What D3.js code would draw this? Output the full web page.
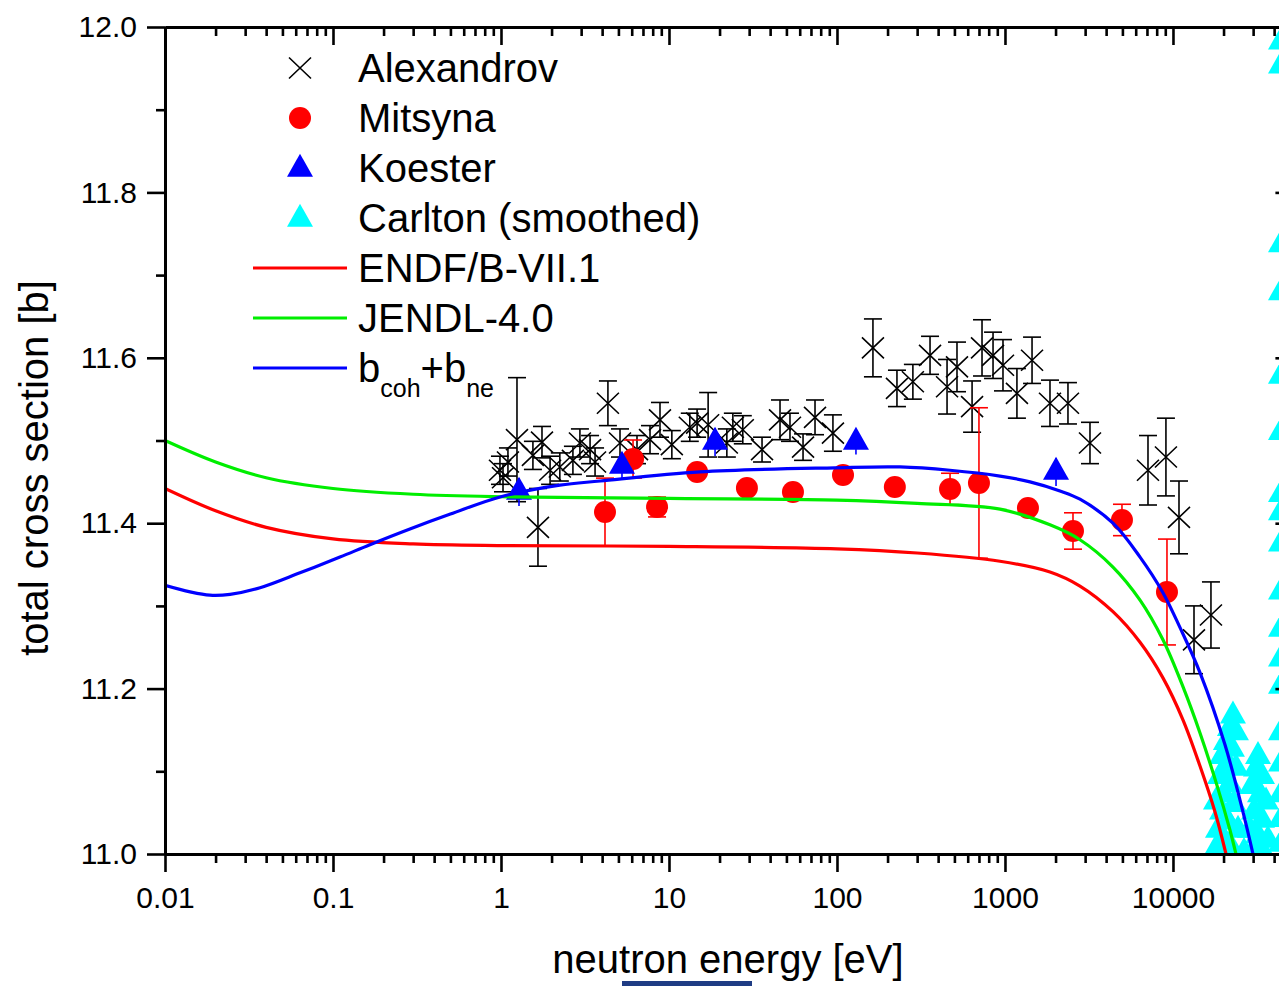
<!DOCTYPE html>
<html>
<head>
<meta charset="utf-8">
<script src="https://cdnjs.cloudflare.com/ajax/libs/d3/7.8.5/d3.min.js"></script>
<style>
  body { margin: 0; background: #fff; }
  svg { display: block; font-family: "Liberation Sans", Arial, sans-serif; }
</style>
</head>
<body>
<div class="chart"></div>
<script>
// Alexandrov (crosses with error bars)
var alexE = [1.028, 1.10, 1.245, 1.754, 1.66, 1.96, 2.24, 2.68, 2.95, 3.39, 4.33, 5.11, 6.45, 7.71, 8.84,
  10.4, 13.3, 14.7, 17.1, 22.1, 24.0, 27.5, 35.8, 45.8, 52.5, 62.8, 74.0, 94.6, 163.7, 227.5, 283, 358,
  452, 518, 637, 730, 849, 973, 1178, 1449, 1853, 2371, 3206, 7100, 9080, 10860, 13340, 16830,
  0.986, 1.549, 3.63];
var alexV = [11.455, 11.474, 11.501, 11.498, 11.395, 11.464, 11.468, 11.476, 11.497, 11.489, 11.545, 11.497, 11.489, 11.501, 11.525,
  11.495, 11.516, 11.521, 11.519, 11.497, 11.516, 11.513, 11.489, 11.525, 11.516, 11.492, 11.528, 11.509, 11.612, 11.563, 11.571, 11.603,
  11.565, 11.589, 11.541, 11.612, 11.603, 11.591, 11.557, 11.597, 11.545, 11.545, 11.497, 11.464, 11.480, 11.407, 11.259, 11.289,
  11.464, 11.482, 11.474];
var alexErr = [0.017, 0.017, 0.075, 0.019, 0.047, 0.017, 0.017, 0.017, 0.017, 0.017, 0.027, 0.017, 0.017, 0.017, 0.021,
  0.017, 0.017, 0.017, 0.039, 0.017, 0.017, 0.017, 0.015, 0.024, 0.017, 0.016, 0.021, 0.022, 0.035, 0.022, 0.021, 0.023,
  0.033, 0.030, 0.031, 0.034, 0.028, 0.031, 0.030, 0.028, 0.028, 0.025, 0.025, 0.042, 0.047, 0.044, 0.041, 0.040,
  0.017, 0.017, 0.017];

// Mitsyna (red circles)
var mitE = [4.16, 6.11, 8.49, 14.7, 29.1, 54.7, 108.6, 221, 471, 700, 1370, 2540, 4970, 9210];
var mitV = [11.4135, 11.4776, 11.4196, 11.4619, 11.4426, 11.4377, 11.4583, 11.4438, 11.4414, 11.4486, 11.4184, 11.3906, 11.4039, 11.3168];
var mitErr = [0.041, 0.023, 0.012, 0.005, 0.005, 0.005, 0.005, 0.005, 0.019, 0.091, 0.005, 0.022, 0.019, 0.064];

// Koester (blue triangles)
var koeE = [1.28, 5.25, 18.8, 129.7, 2013];
var koeV = [11.4377, 11.4692, 11.4982, 11.4982, 11.4619];
var koeErr = [0.017, 0.016, 0.017, 0.015, 0.017];

// Carlton (smoothed), cyan triangles
var carE = [22750, 21830, 23710, 20650, 22440, 19580, 21250, 23710, 19050, 21830, 20130, 18030, 23070, 19580, 21250,
  18530, 24380, 20130, 18030, 22440, 26470, 20650,
  32060, 31190, 33880, 29510, 32960, 35810, 30340, 33880, 28710, 32060, 36730, 30340, 34820,
  43950, 43950, 43950, 43950, 43950, 43950, 43950, 43950, 43950, 43950, 43950, 43950, 43950, 43950, 43950, 43950, 43950, 43950];
var carV = [11.167, 11.152, 11.147, 11.135, 11.127, 11.118, 11.109, 11.104, 11.094, 11.084, 11.072, 11.063, 11.060, 11.051, 11.039,
  11.029, 11.029, 11.017, 11.006, 11.006, 11.002, 10.997,
  11.118, 11.103, 11.094, 11.082, 11.072, 11.063, 11.051, 11.041, 11.029, 11.022, 11.017, 11.005, 11.000,
  11.982, 11.953, 11.737, 11.679, 11.578, 11.510, 11.435, 11.413, 11.375, 11.317, 11.272, 11.236, 11.203, 11.147, 11.109, 11.072, 11.042, 11.012];

// Evaluated curves
var endfE = [0.01, 0.02, 0.04, 0.1, 0.3, 1, 10, 100, 300, 934, 1853, 2795, 4393, 6367, 8716, 11480, 14500, 17780, 20680];
var endfV = [11.442, 11.415, 11.395, 11.381, 11.375, 11.373, 11.372, 11.369, 11.364, 11.354, 11.341, 11.324, 11.293, 11.256, 11.213, 11.162, 11.106, 11.051, 11.0];
var jendlE = [0.01, 0.02, 0.04, 0.1, 0.3, 1, 10, 100, 300, 934, 1853, 2795, 4393, 6367, 8716, 11480, 14500, 18280, 21830, 23710];
var jendlV = [11.500, 11.474, 11.455, 11.442, 11.435, 11.432, 11.430, 11.428, 11.424, 11.417, 11.398, 11.380, 11.347, 11.307, 11.259, 11.202, 11.146, 11.083, 11.029, 11.0];
var bcohE = [0.01, 0.0141, 0.0185, 0.0244, 0.0368, 0.0636, 0.110, 0.166, 0.287, 0.5, 1, 2.24, 3.9, 15.3, 97, 237, 470, 934, 1409, 2125, 2795, 4393, 6367, 8716, 11000, 14500, 20400, 26100, 29950];
var bcohV = [11.325, 11.317, 11.313, 11.314, 11.322, 11.340, 11.359, 11.374, 11.393, 11.411, 11.432, 11.446, 11.451, 11.462, 11.467, 11.468, 11.464, 11.457, 11.450, 11.439, 11.429, 11.400, 11.359, 11.316, 11.274, 11.219, 11.132, 11.051, 11.0];

// Tick values and labels
var xMajor = [0.01, 0.1, 1, 10, 100, 1000, 10000];
var xLabels = ["0.01", "0.1", "1", "10", "100", "1000", "10000"];
var yMajor = [11.0, 11.2, 11.4, 11.6, 11.8, 12.0];
var yLabels = ["11.0", "11.2", "11.4", "11.6", "11.8", "12.0"];
var yMinor = [11.1, 11.3, 11.5, 11.7, 11.9];

var svgWidth = 1279;
var svgHeight = 986;
var plot = { left: 165, top: 27, bottom: 854, right: 1290.4 };
var fontFam = '"Liberation Sans", Arial, sans-serif';

var svg = d3.select(".chart")
  .append("svg")
  .attr("width", svgWidth)
  .attr("height", svgHeight);

var xScale = d3.scaleLog().domain([0.01, 50000]).range([plot.left, plot.right]);
var yScale = d3.scaleLinear().domain([11, 12]).range([plot.bottom, plot.top]);

// minor tick positions 2..9 per decade
var xMinor = [];
xMajor.forEach(function(m) {
  for (var k = 2; k <= 9; k++) {
    if (k * m <= 50000) xMinor.push(+(k * m).toPrecision(3));
  }
});

svg.append("clipPath").attr("id", "plotClip")
  .append("rect")
  .attr("x", plot.left).attr("y", plot.top)
  .attr("width", plot.right - plot.left).attr("height", plot.bottom - plot.top);

var dataG = svg.append("g").attr("clip-path", "url(#plotClip)");

var crossPath = "M-11,-10.5L11,10.5M-11,10.5L11,-10.5";
// triangle centred on its centroid
var triPath = "M0,-15.3L13,7.7L-13,7.7Z";

function errorBars(E, V, Err, color, cap) {
  var g = dataG.append("g").attr("stroke", color).attr("stroke-width", 1.6).attr("fill", "none");
  E.forEach(function(e, i) {
    var x = xScale(e), y0 = yScale(V[i] - Err[i]), y1 = yScale(V[i] + Err[i]);
    g.append("line").attr("x1", x).attr("x2", x).attr("y1", y0).attr("y2", y1);
    if (cap > 0) {
      g.append("line").attr("x1", x - cap).attr("x2", x + cap).attr("y1", y0).attr("y2", y0);
      g.append("line").attr("x1", x - cap).attr("x2", x + cap).attr("y1", y1).attr("y2", y1);
    }
  });
}

// Carlton
dataG.append("g").selectAll("path")
  .data(carE)
  .enter()
  .append("path")
  .attr("d", triPath)
  .attr("fill", "#00ffff")
  .attr("transform", (d, i) => `translate(${xScale(d)},${yScale(carV[i])})`);

// Alexandrov
errorBars(alexE, alexV, alexErr, "#000", 9);
dataG.append("g").selectAll("path")
  .data(alexE)
  .enter()
  .append("path")
  .attr("d", crossPath)
  .attr("stroke", "#000")
  .attr("stroke-width", 1.6)
  .attr("fill", "none")
  .attr("transform", (d, i) => `translate(${xScale(d)},${yScale(alexV[i])})`);

// Mitsyna
errorBars(mitE, mitV, mitErr, "#ff0000", 9);
dataG.append("g").selectAll("circle")
  .data(mitE)
  .enter()
  .append("circle")
  .attr("cx", d => xScale(d))
  .attr("cy", (d, i) => yScale(mitV[i]))
  .attr("r", 11)
  .attr("fill", "#ff0000");

// Koester
errorBars(koeE, koeV, koeErr, "#0000ff", 0);
dataG.append("g").selectAll("path")
  .data(koeE)
  .enter()
  .append("path")
  .attr("d", triPath)
  .attr("fill", "#0000ff")
  .attr("transform", (d, i) => `translate(${xScale(d)},${yScale(koeV[i])})`);

// Curves
var line = d3.line()
  .x(d => xScale(d[0]))
  .y(d => yScale(d[1]))
  .curve(d3.curveCatmullRom.alpha(0.5));

function drawCurve(E, V, color) {
  dataG.append("path")
    .datum(E.map((e, i) => [e, V[i]]))
    .attr("d", line)
    .attr("fill", "none")
    .attr("stroke", color)
    .attr("stroke-width", 3.2);
}
drawCurve(endfE, endfV, "#ff0000");
drawCurve(jendlE, jendlV, "#00ee00");
drawCurve(bcohE, bcohV, "#0000ff");

// Axes
function styleAxis(g, showText) {
  g.select(".domain").attr("stroke-width", 3);
  g.selectAll(".tick line").attr("stroke-width", 2.6);
  g.selectAll("text")
    .attr("font-size", 30)
    .attr("font-family", fontFam)
    .attr("fill", "#000");
  if (!showText) g.selectAll("text").remove();
}

var bottomMajor = d3.axisBottom(xScale).tickValues(xMajor)
  .tickFormat((d, i) => xLabels[i]).tickSizeInner(18).tickSizeOuter(0).tickPadding(15);
var bottomMinor = d3.axisBottom(xScale).tickValues(xMinor).tickSizeInner(9).tickSizeOuter(0);

svg.append("g").attr("transform", `translate(0,${plot.bottom})`).call(bottomMinor).call(g => styleAxis(g, false));
svg.append("g").attr("transform", `translate(0,${plot.bottom})`).call(bottomMajor).call(g => styleAxis(g, true));

// top axis: ticks hanging into the plot
svg.append("g").attr("transform", `translate(0,${plot.top})`).call(bottomMinor).call(g => styleAxis(g, false));
svg.append("g").attr("transform", `translate(0,${plot.top})`)
  .call(d3.axisBottom(xScale).tickValues(xMajor).tickSizeInner(18).tickSizeOuter(0))
  .call(g => styleAxis(g, false));

var leftMajor = d3.axisLeft(yScale).tickValues(yMajor)
  .tickFormat((d, i) => yLabels[i]).tickSizeInner(18).tickSizeOuter(0).tickPadding(10);
var leftMinor = d3.axisLeft(yScale).tickValues(yMinor).tickSizeInner(9).tickSizeOuter(0);

svg.append("g").attr("transform", `translate(${plot.left},0)`).call(leftMinor).call(g => styleAxis(g, false));
svg.append("g").attr("transform", `translate(${plot.left},0)`).call(leftMajor).call(g => styleAxis(g, true));

// right axis: ticks pointing inward
svg.append("g").attr("transform", `translate(${plot.right},0)`)
  .call(d3.axisLeft(yScale).tickValues(yMinor).tickSizeInner(8).tickSizeOuter(0))
  .call(g => styleAxis(g, false));
svg.append("g").attr("transform", `translate(${plot.right},0)`)
  .call(d3.axisLeft(yScale).tickValues(yMajor).tickSizeInner(15).tickSizeOuter(0))
  .call(g => styleAxis(g, false));

// Axis titles
svg.append("text")
  .attr("x", 728)
  .attr("y", 973)
  .attr("text-anchor", "middle")
  .attr("font-size", 40)
  .attr("font-family", fontFam)
  .text("neutron energy [eV]");

svg.append("rect")
  .attr("x", 622).attr("y", 981)
  .attr("width", 130).attr("height", 5)
  .attr("fill", "#1f3c84");

svg.append("text")
  .attr("transform", "translate(48,468) rotate(-90)")
  .attr("text-anchor", "middle")
  .attr("font-size", 40)
  .attr("font-family", fontFam)
  .text("total cross section [b]");

// Legend
var legend = svg.append("g");
var legendRows = [68, 118, 168, 218, 268, 318, 368];
var symX = 300, txtX = 358;

legend.append("path").attr("d", crossPath).attr("stroke", "#000").attr("stroke-width", 1.6)
  .attr("fill", "none").attr("transform", `translate(${symX},${legendRows[0]})`);
legend.append("circle").attr("cx", symX).attr("cy", legendRows[1]).attr("r", 11).attr("fill", "#ff0000");
legend.append("path").attr("d", triPath).attr("fill", "#0000ff")
  .attr("transform", `translate(${symX},${legendRows[2] + 1})`);
legend.append("path").attr("d", triPath).attr("fill", "#00ffff")
  .attr("transform", `translate(${symX},${legendRows[3] + 1})`);

var lineColors = ["#ff0000", "#00ee00", "#0000ff"];
lineColors.forEach(function(c, i) {
  legend.append("line")
    .attr("x1", 253).attr("x2", 347)
    .attr("y1", legendRows[4 + i]).attr("y2", legendRows[4 + i])
    .attr("stroke", c).attr("stroke-width", 3);
});

var legendNames = ["Alexandrov", "Mitsyna", "Koester", "Carlton (smoothed)", "ENDF/B-VII.1", "JENDL-4.0"];
legendNames.forEach(function(name, i) {
  legend.append("text")
    .attr("x", txtX).attr("y", legendRows[i] + 14)
    .attr("font-size", 40).attr("font-family", fontFam)
    .text(name);
});

var bt = legend.append("text")
  .attr("x", txtX).attr("y", legendRows[6] + 14)
  .attr("font-size", 40).attr("font-family", fontFam);
bt.append("tspan").text("b");
bt.append("tspan").attr("font-size", 25).attr("dy", 15).text("coh");
bt.append("tspan").attr("dy", -15).text("+b");
bt.append("tspan").attr("font-size", 25).attr("dy", 15).text("ne");
</script>
</body>
</html>
